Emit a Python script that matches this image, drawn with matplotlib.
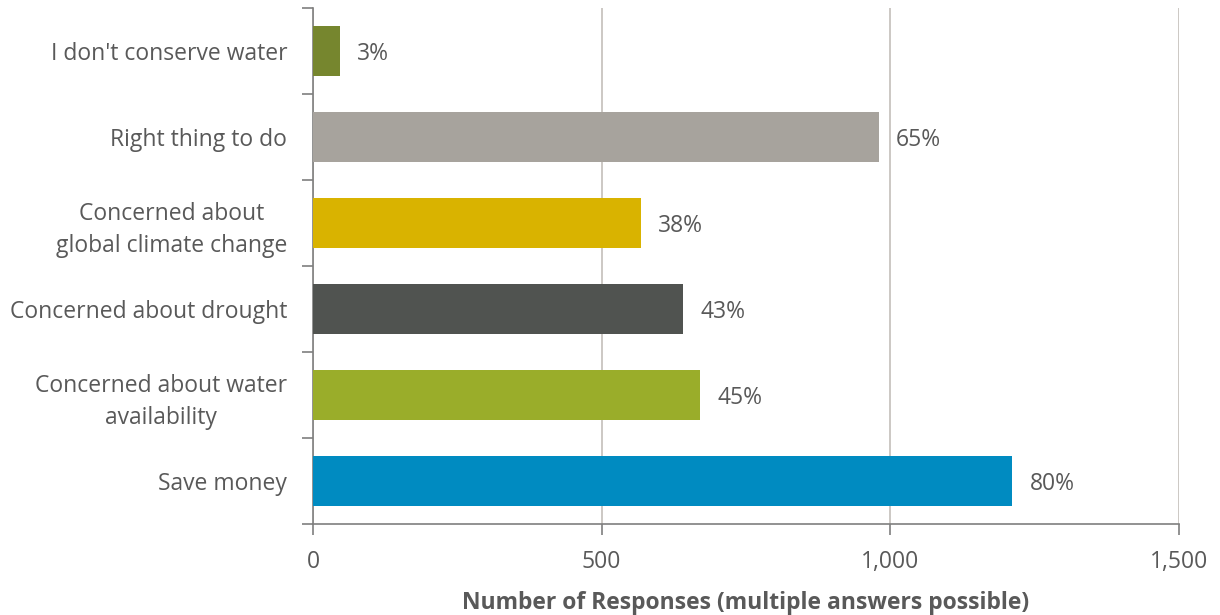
import numpy as np
import matplotlib as mpl; mpl.use('Agg')
import matplotlib.pyplot as plt

mpl.rcParams.update({'font.family': ['Open Sans', 'DejaVu Sans'], 'font.size': 16.5})
TXT = '#595959'
FS = 16.5

# reasons for conserving water, bottom to top
categories = ['Save money', 'Concerned about water\navailability', 'Concerned about drought',
              'Concerned about\nglobal climate change', 'Right thing to do', "I don't conserve water"]
responses = [1211, 670, 641, 568, 980, 46]
pct_labels = ['80%', '45%', '43%', '38%', '65%', '3%']
colors = ['#008bc1', '#9aad2a', '#505350', '#d9b300', '#a7a39d', '#76862e']
xticks = [0, 500, 1000, 1500]

fig = plt.figure(figsize=(12.2, 6.15), dpi=100)
ax = fig.add_axes([313 / 1220, 1 - 524 / 615, (1179 - 313) / 1220, (524 - 8) / 615])
y = np.arange(len(categories))
ax.barh(y, responses, height=0.57, color=colors, zorder=3)
for yi, v, lab in zip(y, responses, pct_labels):
    ax.text(v + 30, yi, lab, va='center_baseline', ha='left', color=TXT, fontsize=FS)

ax.set_xlim(0, 1500); ax.set_ylim(-0.5, len(categories) - 0.5)
ax.set_xticks(xticks); ax.set_xticklabels([f'{t:,}' for t in xticks])
ax.set_yticks(y); ax.set_yticklabels(categories, linespacing=1.45, multialignment='center')
ax.set_yticks(np.arange(-0.5, len(categories)), minor=True)
ax.tick_params(axis='y', which='major', length=0, pad=18.5, colors=TXT, labelsize=FS)
ax.tick_params(axis='y', which='minor', length=8, color='#7f7f7f', width=1.2)
ax.tick_params(axis='x', length=8, color='#7f7f7f', width=1.2, pad=11, colors=TXT, labelsize=FS)
ax.grid(axis='x', color='#c8c4bf', lw=1.3, zorder=0)
for s in ['top', 'right']:
    ax.spines[s].set_visible(False)
for s in ['left', 'bottom']:
    ax.spines[s].set_color('#7f7f7f'); ax.spines[s].set_linewidth(1.2)
ax.set_xlabel('Number of Responses (multiple answers possible)', fontsize=FS,
              fontweight='bold', color=TXT, labelpad=12)

fig.savefig('out.png', dpi=100)
